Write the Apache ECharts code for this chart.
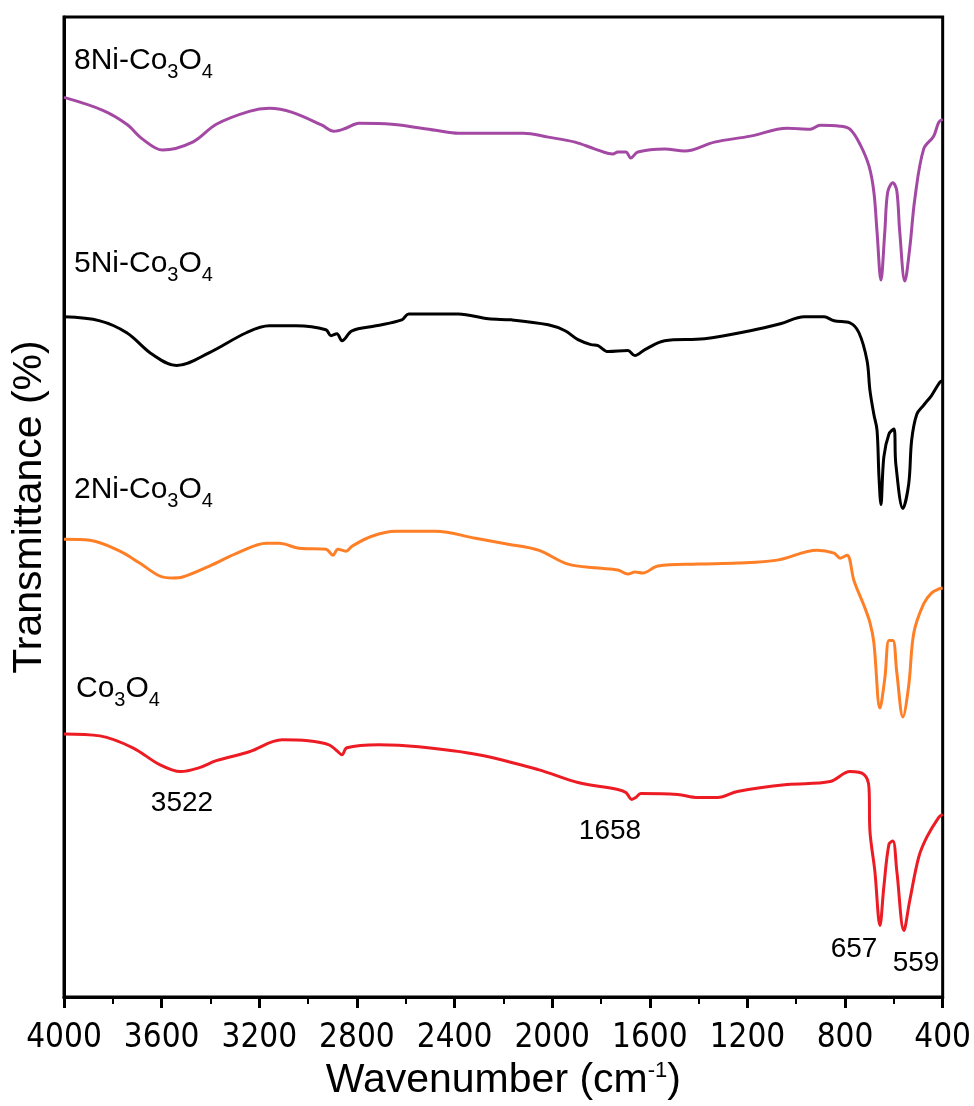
<!DOCTYPE html>
<html>
<head>
<meta charset="utf-8">
<style>html,body{margin:0;padding:0;background:#fff;}#chart{width:974px;height:1106px;}</style>
<script src="https://cdn.jsdelivr.net/npm/echarts@6/dist/echarts.min.js"></script>
</head>
<body>
<div id="chart"></div>
<script>
// Wavenumber ticks (cm-1)
const xTicks = [4000, 3600, 3200, 2800, 2400, 2000, 1600, 1200, 800, 400];

// [wavenumber, transmittance (arbitrary offset units)]
const co3o4 = [[4000,265],[3853,263],[3718,251],[3608,234],[3522,227],[3445,231],[3376,238],[3241,247],[3106,259],[3000,258],[2914,254],[2882,248],[2861,244],[2841,251],[2710,254],[2547,252],[2302,244],[2057,229],[1894,216],[1731,209],[1698,206],[1674,199],[1657,201],[1637,205],[1486,204],[1404,201],[1322,201],[1241,207],[1037,214],[861,217],[780,227],[722,224],[702,211],[698,167],[678,127],[657,72],[641,111],[620,154],[604,157],[588,127],[559,67],[535,97],[498,141],[465,161],[416,181],[400,184]];

const ni2 = [[4000,461],[3894,460],[3771,449],[3690,437],[3608,424],[3555,422],[3514,423],[3404,434],[3282,448],[3171,457],[3118,457],[3037,452],[2927,451],[2898,445],[2878,451],[2845,449],[2820,454],[2739,464],[2641,469],[2478,469],[2314,462],[2180,456],[2057,450],[1935,436],[1812,432],[1731,430],[1690,426],[1661,428],[1629,427],[1567,434],[1404,436],[1241,437],[1078,440],[914,450],[845,447],[820,442],[792,445],[763,419],[722,394],[698,377],[682,357],[657,291],[637,321],[620,359],[604,359],[588,327],[563,282],[539,314],[518,367],[478,396],[445,407],[416,411],[400,412]];

const ni5 = [[4000,685],[3853,681],[3743,669],[3637,647],[3539,636],[3404,649],[3253,669],[3159,676],[3049,676],[2927,672],[2906,666],[2882,668],[2861,661],[2820,671],[2722,676],[2616,682],[2588,688],[2384,688],[2261,683],[2167,682],[2016,677],[1947,671],[1894,662],[1841,657],[1812,656],[1771,650],[1690,651],[1661,646],[1620,652],[1539,661],[1376,663],[1188,671],[1065,678],[967,685],[886,685],[845,681],[780,679],[743,669],[710,641],[698,611],[682,587],[669,571],[661,524],[653,496],[641,544],[620,567],[600,572],[592,537],[563,492],[539,517],[527,561],[506,587],[478,596],[445,606],[412,619],[400,621]];

const ni8 = [[4000,906],[3841,893],[3743,879],[3678,864],[3596,853],[3473,861],[3376,879],[3241,892],[3159,895],[3065,891],[2943,878],[2894,872],[2845,875],[2792,880],[2657,879],[2478,873],[2384,870],[2220,870],[2118,870],[2016,866],[1906,861],[1824,854],[1751,849],[1731,851],[1698,851],[1678,845],[1649,851],[1539,854],[1457,852],[1335,861],[1188,867],[1037,875],[943,874],[902,878],[820,877],[780,874],[739,859],[702,837],[682,811],[669,771],[653,722],[637,771],[625,811],[604,820],[588,812],[576,771],[555,721],[535,754],[514,804],[478,854],[437,867],[416,881],[400,884]];

const seriesNames = ['Co3O4', '2Ni-Co3O4', '5Ni-Co3O4', '8Ni-Co3O4'];
const seriesColors = ['#ED1C24', '#FF7F27', '#000000', '#A349A4'];
const seriesData = [co3o4, ni2, ni5, ni8];

const peakLabels = ['3522', '1658', '657', '559'];

const FONT = '"Liberation Sans", Arial, sans-serif';
const NARROW = '"Liberation Sans Narrow", "Arial Narrow", "DejaVu Sans Condensed", sans-serif';

const chart = echarts.init(document.getElementById('chart'));

const subRich = {
  m: {fontSize: 30, fontFamily: FONT, color: '#000', lineHeight: 30, verticalAlign: 'top'},
  s: {fontSize: 20, fontFamily: FONT, color: '#000', lineHeight: 36, verticalAlign: 'bottom'}
};
function chem(prefix) {
  return '{m|' + prefix + 'Co}{s|3}{m|O}{s|4}';
}
const labelTops = [674, 475, 249, 46];
const labelPrefixes = ['', '2Ni-', '5Ni-', '8Ni-'];
const labelLefts = [76, 74, 74, 74];

const graphics = [];
for (let i = 0; i < 4; i++) {
  graphics.push({
    type: 'text', left: labelLefts[i], top: labelTops[i],
    style: {text: chem(labelPrefixes[i]), rich: subRich}
  });
}
const peakPos = [[182, 803], [610, 831], [854, 949], [916, 963]];
for (let i = 0; i < peakLabels.length; i++) {
  graphics.push({
    type: 'text', x: peakPos[i][0], y: peakPos[i][1],
    style: {text: peakLabels[i], font: '28px ' + FONT, fill: '#000', align: 'center', verticalAlign: 'middle'}
  });
}

chart.setOption({
  animation: false,
  backgroundColor: '#fff',
  grid: {left: 64, right: 29, top: 17, bottom: 102, show: true, borderColor: '#000', borderWidth: 3},
  xAxis: {
    type: 'value', min: 400, max: 4000, interval: 400, inverse: true,
    axisLine: {show: true, lineStyle: {color: '#000', width: 3}},
    axisTick: {show: true, length: 11, lineStyle: {color: '#000', width: 3}},
    minorTick: {show: true, splitNumber: 2, length: 7, lineStyle: {color: '#000', width: 2}},
    splitLine: {show: false},
    axisLabel: {margin: 25, fontSize: 33, fontFamily: NARROW, color: '#000', showMinLabel: true, showMaxLabel: true,
      formatter: v => String(v)},
    name: 'Wavenumber (cm{sup|-1})',
    nameLocation: 'middle', nameGap: 63,
    nameTextStyle: {
      fontSize: 41, fontFamily: FONT, color: '#000',
      rich: {sup: {fontSize: 22, fontFamily: FONT, color: '#000', lineHeight: 22, verticalAlign: 'top'}}
    }
  },
  yAxis: {
    type: 'value', min: 0, max: 987,
    axisLine: {show: true, lineStyle: {color: '#000', width: 3}},
    axisTick: {show: false}, axisLabel: {show: false}, splitLine: {show: false},
    name: 'Transmittance (%)', nameLocation: 'middle', nameGap: 14, nameRotate: 90,
    nameTextStyle: {fontSize: 41, fontFamily: FONT, color: '#000'}
  },
  series: seriesData.map((d, i) => ({
    name: seriesNames[i], type: 'line', data: d, showSymbol: false,
    smooth: 0.35, lineStyle: {color: seriesColors[i], width: 3}, clip: true
  })),
  graphic: graphics
});
</script>
</body>
</html>
